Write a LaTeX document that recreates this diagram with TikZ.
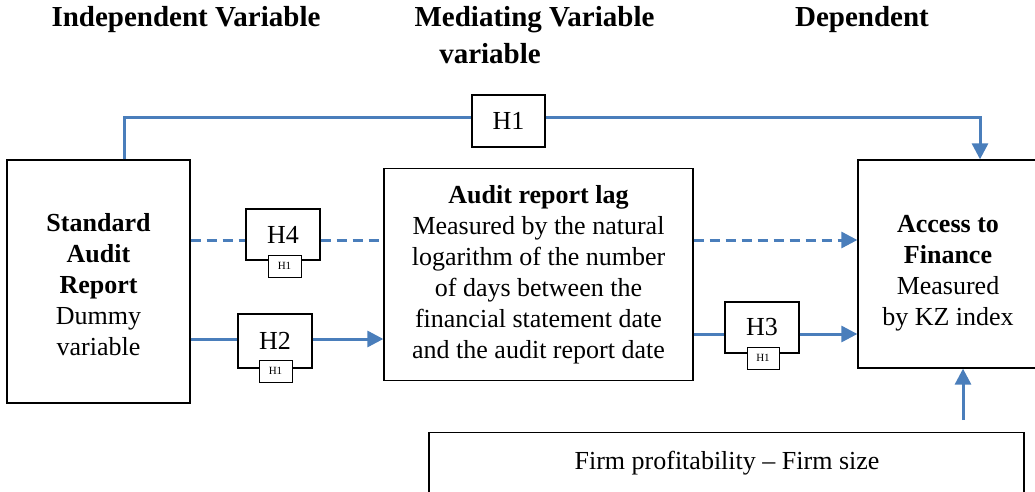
\documentclass[tikz,border=0pt]{standalone}
\usepackage{fontspec}
\setmainfont{Liberation Serif}
\usetikzlibrary{arrows.meta}
\definecolor{lineblue}{HTML}{4A7EBB}
\begin{document}
\begin{tikzpicture}[x=1pt,y=-1pt,
 box/.style={draw=black,line width=1.3pt,fill=white,inner sep=0pt,align=center,font=\fontsize{26}{31}\selectfont},
 hbox/.style={draw=black,line width=1.2pt,fill=white,inner sep=0pt,font=\fontsize{26}{31}\selectfont},
 sbox/.style={draw=black,line width=0.9pt,fill=white,inner sep=0pt,font=\fontsize{11}{13}\selectfont},
 head/.style={font=\fontsize{29}{34}\selectfont\bfseries,inner sep=0pt},
 plain/.style={inner sep=0pt,font=\fontsize{26}{31}\selectfont},
 conn/.style={draw=lineblue,line width=3pt},
 arr/.style={conn,-{Triangle[length=16pt,width=16pt]}},
 dashline/.style={dash pattern=on 10pt off 6pt}]
\useasboundingbox (0,0) rectangle (1035,492);

% headers
\node[head] (hi) at (186,20) {Independent Variable};
\node[head] (hm) at (534.5,20) {Mediating Variable};
\node[head] (hm2) at (490,54) {variable};
\node[head] (hd) at (862,20) {Dependent};

% main boxes
\node[box,minimum width=183pt,minimum height=243pt] (sar) at (98.5,281.5) {};
\node[plain,align=center] (sartxt) at (98.5,285)
  {\textbf{Standard}\\\textbf{Audit}\\\textbf{Report}\\Dummy\\variable};
\node[box,minimum width=309pt,minimum height=212pt] (arl) at (538.5,274.5)
  {\textbf{Audit report lag}\\Measured by the natural\\logarithm of the number\\of days between the\\financial statement date\\and the audit report date};
\node[box,minimum width=180pt,minimum height=208pt] (atf) at (948,264) {};
\node[plain,align=center] (atftxt) at (948,273)
  {\textbf{Access to}\\\textbf{Finance}\\Measured\\by KZ index};
\node[box,minimum width=595pt,minimum height=90pt,anchor=north] (ctrl) at (726.5,432) {};
\node[plain] (ctrltxt) at (727,463) {Firm profitability – Firm size};

% hypothesis boxes
\node[hbox,minimum width=73pt,minimum height=52pt] (h1) at (508.5,121) {H1};
\node[hbox,minimum width=74pt,minimum height=51pt] (h4) at (283,234.5) {H4};
\node[sbox,minimum width=33pt,minimum height=22pt] (h4s) at (284.5,266) {H1};
\node[hbox,minimum width=74pt,minimum height=54pt] (h2) at (275,341) {H2};
\node[sbox,minimum width=33pt,minimum height=22pt] (h2s) at (275.5,371) {H1};
\node[hbox,minimum width=74pt,minimum height=51pt] (h3) at (762,327.5) {H3};
\node[sbox,minimum width=32pt,minimum height=22pt] (h3s) at (763,358) {H1};

% connectors
\coordinate (t0) at (124,118);
\coordinate (t1) at (980,118);
\draw[conn] (sar.north -| t0) -- (t0) -- (h1.west |- t0);
\draw[arr] (h1.east |- t1) -- (t1) -- (t1 |- atf.north);

\coordinate (dy) at (0,240);
\draw[conn,dashline] (sar.east |- dy) -- (h4.west |- dy);
\draw[conn,dashline] (h4.east |- dy) -- (arl.west |- dy);
\draw[arr,dashline] (arl.east |- dy) -- (atf.west |- dy);

\coordinate (y2) at (0,339);
\draw[conn] (sar.east |- y2) -- (h2.west |- y2);
\draw[arr] (h2.east |- y2) -- (arl.west |- y2);

\coordinate (y3) at (0,334);
\draw[conn] (arl.east |- y3) -- (h3.west |- y3);
\draw[arr] (h3.east |- y3) -- (atf.west |- y3);

\coordinate (c1) at (963,420);
\draw[arr] (c1) -- (c1 |- atf.south);
\end{tikzpicture}
\end{document}
